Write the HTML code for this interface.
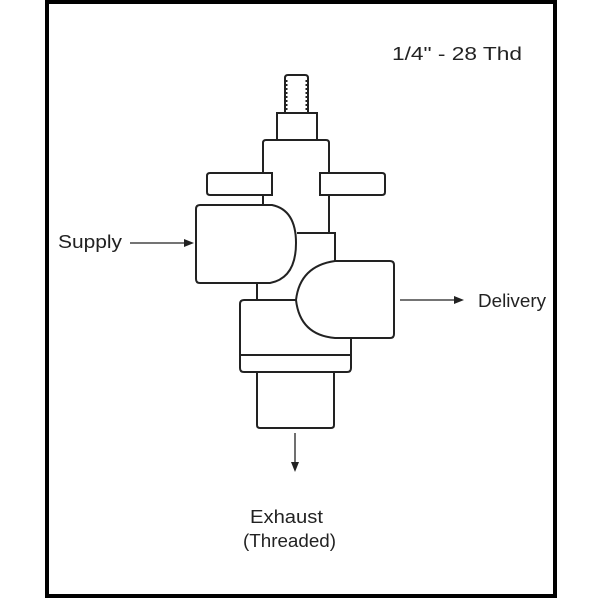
<!DOCTYPE html>
<html><head><style>html,body{margin:0;padding:0;background:#fff}svg{display:block}</style></head>
<body>
<svg width="600" height="600" viewBox="0 0 600 600" xmlns="http://www.w3.org/2000/svg" font-family="Liberation Sans, sans-serif" fill="none" stroke="#222" stroke-width="2">
<rect x="47" y="2" width="508" height="594" stroke="#000" stroke-width="4"/>
<text x="392" y="60" font-size="18" fill="#222" stroke="none" textLength="130" lengthAdjust="spacingAndGlyphs">1/4" - 28 Thd</text>
<text x="58" y="248" font-size="18" fill="#222" stroke="none" textLength="64" lengthAdjust="spacingAndGlyphs">Supply</text>
<text x="478" y="307" font-size="18" fill="#222" stroke="none" textLength="68" lengthAdjust="spacingAndGlyphs">Delivery</text>
<text x="250" y="523" font-size="18" fill="#222" stroke="none" textLength="73" lengthAdjust="spacingAndGlyphs">Exhaust</text>
<text x="243" y="547" font-size="18" fill="#222" stroke="none" textLength="93" lengthAdjust="spacingAndGlyphs">(Threaded)</text>
<path d="M285 113 V78 Q285 75 288 75 H305 Q308 75 308 78 V113" />
<line x1="286" y1="80" x2="286" y2="112" stroke-dasharray="2 2" stroke-width="3"/>
<line x1="307" y1="80" x2="307" y2="112" stroke-dasharray="2 2" stroke-width="3"/>
<rect x="277" y="113" width="40" height="27"/>
<path d="M263 173 V143 Q263 140 266 140 H326 Q329 140 329 143 V173"/>
<path d="M263 195 V205 M329 195 V233 M297 233 H335 V261"/>
<path d="M272 173 H210 Q207 173 207 176 V192 Q207 195 210 195 H272 Z"/>
<path d="M320 173 H382 Q385 173 385 176 V192 Q385 195 382 195 H320 Z"/>
<path d="M272 205 H200 Q196 205 196 209 V279 Q196 283 200 283 H270 Q296 278 296 243 Q296 210 272 205 Z"/>
<path d="M335 261 H390 Q394 261 394 265 V334 Q394 338 390 338 H335 Q300 335 296 300 Q300 266 335 261 Z"/>
<path d="M257 283 V300"/>
<path d="M296 300 H244 Q240 300 240 304 V368 Q240 372 244 372 H347 Q351 372 351 368 V338"/>
<line x1="240" y1="355" x2="351" y2="355"/>
<path d="M257 372 V425 Q257 428 260 428 H331 Q334 428 334 425 V372"/>
<g stroke-width="1.3">
<line x1="130" y1="243" x2="188" y2="243"/>
<line x1="400" y1="300" x2="458" y2="300"/>
<line x1="295" y1="433" x2="295" y2="466"/>
</g>
<g fill="#222" stroke="none">
<path d="M194 243 L184 239 L184 247 Z"/>
<path d="M464 300 L454 296 L454 304 Z"/>
<path d="M295 472 L291 462 L299 462 Z"/>
</g>
</svg>
</body></html>
